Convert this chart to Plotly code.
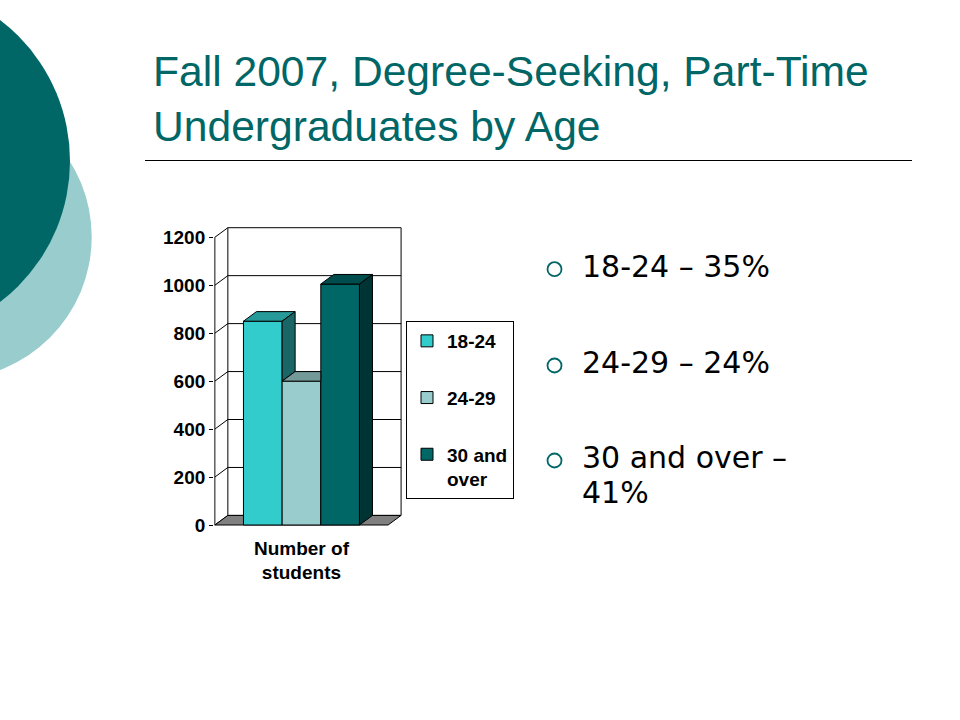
import plotly.graph_objects as go

# ---------------- data ----------------
age_groups = ["18-24", "24-29", "30 and over"]
legend_names = ["18-24", "24-29", "30 and<br>over"]
students = [850, 600, 1005]
shares = ["35%", "24%", "41%"]
category_label = "Number of<br>students"
y_ticks = [0, 200, 400, 600, 800, 1000, 1200]
title_lines = ["Fall 2007, Degree-Seeking, Part-Time", "Undergraduates by Age"]

# ---------------- styles ----------------
front_colors = ["#33CCCC", "#99CCCC", "#006666"]
top_colors = ["#269999", "#739999", "#004D4D"]
side_colors = ["#1A6666", "#4D6666", "#003333"]
TEAL = "#006666"
LIGHT = "#99CCCC"
CHART_FONT = "Liberation Sans, Arial, sans-serif"
BULLET_FONT = "DejaVu Sans, Verdana, sans-serif"

W, H = 960, 720
UX, X0 = 38.67, 262.8      # px per x unit, px of x=0
UY, Y0 = 0.23975, 525.0    # px per y unit, px of y=0
XR = [-1.26, 3.65]
YR = [-40, 1260]
DX, DY = 0.336, 40         # 3-D depth offset (data units)
XL, XRT = -1.24, 3.24      # front extent of floor


def px_x(v):
    return X0 + v * UX


def px_y(v):
    return Y0 - v * UY


def pap_x(p):
    return p / W


def pap_y(p):
    return 1 - p / H


xdom = [px_x(XR[0]) / W, px_x(XR[1]) / W]
ydom = [1 - px_y(YR[0]) / H, 1 - px_y(YR[1]) / H]

fig = go.Figure()

# front faces (real bars)
for i, v in enumerate(students):
    fig.add_trace(go.Bar(
        x=[i], y=[v], width=[1], name=legend_names[i], legendgroup=str(i),
        marker=dict(color=front_colors[i], line=dict(color="black", width=1)),
        hovertemplate=age_groups[i] + ": %{y}<extra></extra>",
    ))

# top and side faces
for i, v in enumerate(students):
    x0, x1 = i - 0.5, i + 0.5
    nxt = students[i + 1] if i + 1 < len(students) else None
    hidden_right = nxt is not None and nxt >= v
    br = x1 if hidden_right else x1 + DX
    fig.add_trace(go.Scatter(
        x=[x0, x1, br, x0 + DX, x0], y=[v, v, v + DY, v + DY, v],
        mode="lines", fill="toself", fillcolor=top_colors[i],
        line=dict(color="black", width=1), showlegend=False, hoverinfo="skip"))
    if not hidden_right:
        lo = nxt if nxt is not None else 0
        fig.add_trace(go.Scatter(
            x=[x1, x1, x1 + DX, x1 + DX, x1], y=[lo, v, v + DY, lo + DY, lo],
            mode="lines", fill="toself", fillcolor=side_colors[i],
            line=dict(color="black", width=1), showlegend=False, hoverinfo="skip"))

shapes = []
# back wall
shapes.append(dict(type="rect", xref="x", yref="y", x0=XL + DX, x1=XRT + DX,
                   y0=DY, y1=y_ticks[-1] + DY, line=dict(color="black", width=1),
                   fillcolor="white", layer="below"))
for t in y_ticks[1:-1]:
    shapes.append(dict(type="line", xref="x", yref="y", x0=XL + DX, x1=XRT + DX,
                       y0=t + DY, y1=t + DY, line=dict(color="black", width=1), layer="below"))
for t in y_ticks:
    shapes.append(dict(type="line", xref="x", yref="y", x0=XL, x1=XL + DX,
                       y0=t, y1=t + DY, line=dict(color="black", width=1), layer="below"))
# floor
shapes.append(dict(type="path", xref="x", yref="y",
                   path=f"M{XL},0 L{XRT},0 L{XRT + DX},{DY} L{XL + DX},{DY} Z",
                   fillcolor="#808080", line=dict(color="black", width=1), layer="below"))
# front value axis line
shapes.append(dict(type="line", xref="x", yref="y", x0=XL, x1=XL, y0=0, y1=y_ticks[-1],
                   line=dict(color="black", width=1)))

# decorative circles
shapes.append(dict(type="circle", xref="paper", yref="paper",
                   x0=pap_x(-50.6 - 142.3), x1=pap_x(-50.6 + 142.3),
                   y0=pap_y(237 + 142.3), y1=pap_y(237 - 142.3),
                   fillcolor=LIGHT, line=dict(width=0)))
shapes.append(dict(type="circle", xref="paper", yref="paper",
                   x0=pap_x(-107 - 177), x1=pap_x(-107 + 177),
                   y0=pap_y(161 + 177), y1=pap_y(161 - 177),
                   fillcolor=TEAL, line=dict(width=0)))
# title rule
shapes.append(dict(type="line", xref="paper", yref="paper", x0=pap_x(145), x1=pap_x(912),
                   y0=pap_y(160.5), y1=pap_y(160.5), line=dict(color="black", width=1)))

annotations = []
# title
TF = 42.6
for txt, base in zip(title_lines, [86, 141]):
    annotations.append(dict(text=txt, xref="paper", yref="paper", x=pap_x(151),
                            y=pap_y(base - 0.3465 * TF), xanchor="left", yanchor="middle",
                            showarrow=False, font=dict(family=CHART_FONT, size=TF, color=TEAL)))

# bullets
bullet_base = [276.7, 373, 468]
BF = 30
for g, s, base in zip(age_groups, shares, bullet_base):
    txt = f"{g} – {s}"
    lines = [txt] if len(txt) <= 12 else [txt.rsplit(" ", 1)[0], txt.rsplit(" ", 1)[1]]
    for k, ln in enumerate(lines):
        annotations.append(dict(text=ln, xref="paper", yref="paper", x=pap_x(580),
                                y=pap_y(base + 35 * k - 0.346 * BF), xanchor="left",
                                yanchor="middle", showarrow=False,
                                font=dict(family=BULLET_FONT, size=BF, color="black")))
    cy = base - 7.5
    shapes.append(dict(type="circle", xref="paper", yref="paper",
                       x0=pap_x(547.5), x1=pap_x(561.5), y0=pap_y(cy + 7), y1=pap_y(cy - 7),
                       line=dict(color=TEAL, width=1.8), fillcolor="rgba(0,0,0,0)"))

bold_chart = dict(family=CHART_FONT, size=19, color="black", weight="bold")

fig.update_layout(
    width=W, height=H, margin=dict(l=0, r=0, t=0, b=0),
    paper_bgcolor="white", plot_bgcolor="rgba(0,0,0,0)",
    barmode="overlay", showlegend=True, hovermode="closest",
    xaxis=dict(domain=xdom, range=XR, tickvals=[1], ticktext=[category_label],
               showgrid=False, zeroline=False, showline=False, ticks="",
               tickfont=bold_chart, fixedrange=True),
    yaxis=dict(domain=ydom, range=YR, tickvals=y_ticks, showgrid=False, zeroline=False,
               showline=False, ticks="outside", ticklen=4, tickcolor="black", tickwidth=1,
               tickfont=bold_chart, fixedrange=True),
    legend=dict(x=pap_x(406), y=pap_y(321), xanchor="left", yanchor="top",
                bordercolor="black", borderwidth=1, bgcolor="white",
                font=bold_chart, traceorder="grouped", tracegroupgap=29, valign="top"),
    shapes=shapes, annotations=annotations,
)

fig.write_html("out.html", config={"displayModeBar": False},
               post_script="document.body.style.margin='0';document.body.style.overflow='hidden';")
